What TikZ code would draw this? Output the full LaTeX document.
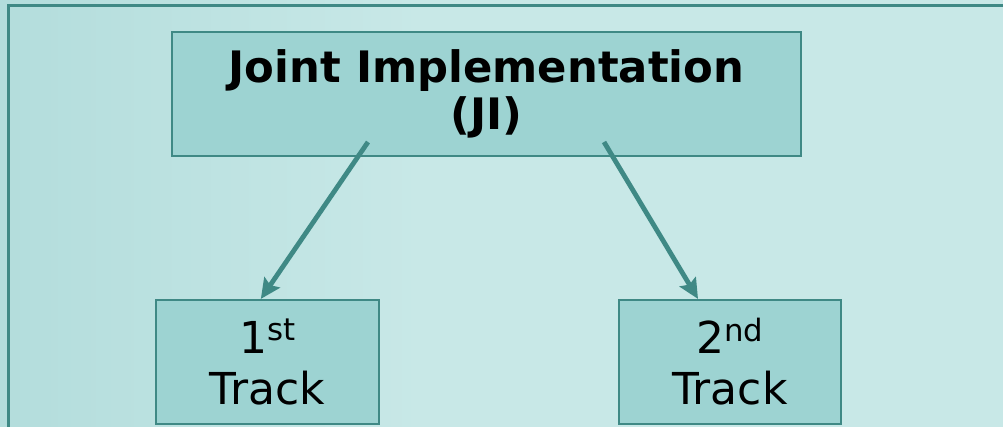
\documentclass[tikz,border=0pt]{standalone}
\usepackage{fontspec}
\newfontfamily\boxfont{DejaVu Sans}
\usetikzlibrary{arrows.meta}
\definecolor{slidebg}{HTML}{C8E8E7}
\definecolor{slideshade}{HTML}{B3DDDC}
\definecolor{boxfill}{HTML}{9DD3D2}
\definecolor{tealline}{HTML}{3F8985}

\begin{document}
\begin{tikzpicture}[x=0.75pt,y=-0.75pt,
  ->,>={Stealth[length=15pt,width=14pt,inset=2.5pt]},
  main node/.style={rectangle,draw=tealline,fill=boxfill,line width=1.6pt,
    inner sep=0pt,align=center,text=black},
  track node/.style={main node,minimum width=167pt,minimum height=93pt,
    font=\boxfont\fontsize{33}{38.25}\selectfont},
  link/.style={draw=tealline,line width=3.6pt}]
  \useasboundingbox (0,0) rectangle (1003,427);
  \fill[slidebg] (0,0) rectangle (1003,427);
  \shade[left color=slideshade,right color=slidebg] (0,0) rectangle (420,427);
  \draw[-,tealline,line width=1.6pt] (8.5,427) -- (8.5,5.5) -- (1003,5.5);

  \node[main node,minimum width=471.75pt,minimum height=93pt,
    font=\boxfont\bfseries\fontsize{32.5}{35.25}\selectfont]
    (JI) at (486.5,94) {Joint Implementation\\(JI)};
  \node[track node] (t1) at (267.5,362) {1\textsuperscript{st}\\Track};
  \node[track node] (t2) at (730,362) {2\textsuperscript{nd}\\Track};

  \coordinate (ja) at (368,142);
  \coordinate (jb) at (604,142);
  \draw[link] (ja) -- ([xshift=-5pt]t1.north);
  \draw[link] (jb) -- ([xshift=-24pt]t2.north);
\end{tikzpicture}
\end{document}
